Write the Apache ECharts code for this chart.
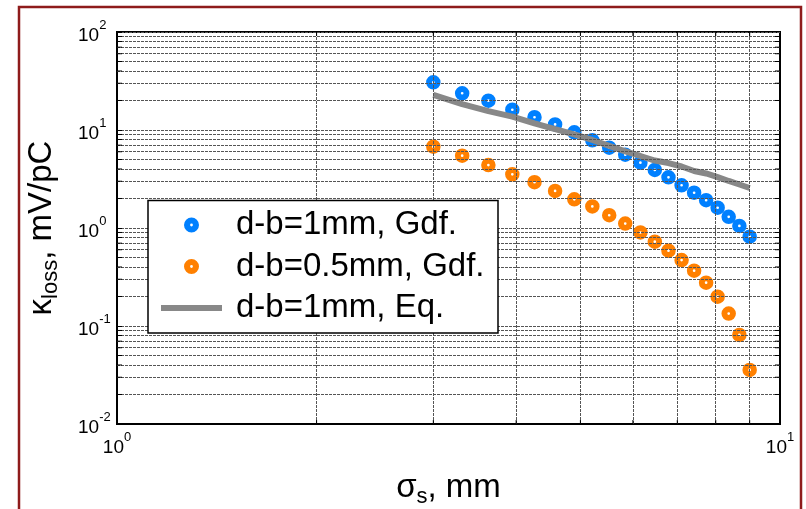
<!DOCTYPE html>
<html><head><meta charset="utf-8">
<script src="https://cdn.jsdelivr.net/npm/echarts@6/dist/echarts.min.js"></script>
<style>html,body{margin:0;padding:0;background:#fff;}#c{width:806px;height:509px;}</style>
</head><body><div id="c"></div>
<script>
// sigma_s values (mm), shared by all series
const sigma = [3.000, 3.316, 3.632, 3.947, 4.263, 4.579, 4.895, 5.211, 5.526, 5.842,
               6.158, 6.474, 6.789, 7.105, 7.421, 7.737, 8.053, 8.368, 8.684, 9.000];
// kappa_loss (mV/pC)
const kappaGdf1mm = [30.7, 23.7, 19.9, 16.1, 13.5, 11.4, 9.47, 7.85, 6.6, 5.6,
                     4.64, 3.91, 3.29, 2.73, 2.29, 1.92, 1.61, 1.30, 1.05, 0.815];
const kappaGdf05mm = [6.75, 5.47, 4.39, 3.53, 2.93, 2.39, 1.96, 1.66, 1.35, 1.11,
                      0.90, 0.725, 0.587, 0.471, 0.367, 0.277, 0.199, 0.134, 0.081, 0.0356];
const kappaEq1mm = [22.8, 18.4, 15.6, 13.7, 11.7, 10.2, 9.04, 7.91, 6.90, 6.06,
                    5.43, 4.88, 4.60, 4.24, 3.82, 3.60, 3.31, 3.02, 2.78, 2.56];
const seriesNames = ['d-b=1mm, Gdf.', 'd-b=0.5mm, Gdf.', 'd-b=1mm, Eq.'];
const xTickExponents = [0, 1];
const yTickExponents = [-2, -1, 0, 1, 2];
const xMinorGrid = [2, 3, 4, 5, 6, 7, 8, 9];
const yMinorGrid = [0.02, 0.03, 0.04, 0.05, 0.06, 0.07, 0.08, 0.09,
                    0.2, 0.3, 0.4, 0.5, 0.6, 0.7, 0.8, 0.9,
                    2, 3, 4, 5, 6, 7, 8, 9,
                    20, 30, 40, 50, 60, 70, 80, 90];

const FONT = "'Liberation Sans', Arial, Helvetica, sans-serif";
const BLUE = '#0080FF', ORANGE = '#FF8000', GRAY = '#888888';
const gridLineStyle = { color: '#555', width: 1, type: [3, 1] };
const RING = 'path://M7,0A7,7,0,1,1,7,14A7,7,0,1,1,7,0ZM7,5.7A1.3,1.3,0,1,0,7,8.3A1.3,1.3,0,1,0,7,5.7Z';
const BAR = 'path://M0,0H61V6H0Z';

function pairs(xs, ys) { return xs.map((x, i) => [x, ys[i]]); }

function expLabel(list) {
  return function (v) {
    const e = Math.round(Math.log10(v));
    if (list.indexOf(e) < 0) return '';
    return '{b|10}{s|' + e + '}';
  };
}
const labelRich = {
  b: { fontSize: 19, fontFamily: FONT, color: '#000', verticalAlign: 'bottom', lineHeight: 26 },
  s: { fontSize: 13, fontFamily: FONT, color: '#000', verticalAlign: 'top', lineHeight: 26 }
};

// minor tick marks drawn through the axes' scales
const tickData = [];
yMinorGrid.forEach(v => { tickData.push([1, v]); tickData.push([10, v]); });
xMinorGrid.forEach(v => { tickData.push([v, 0.01]); tickData.push([v, 100]); });

const chart = echarts.init(document.getElementById('c'), null, { renderer: 'canvas' });
chart.setOption({
  animation: false,
  backgroundColor: '#fff',
  textStyle: { fontFamily: FONT },
  grid: { left: 117, right: 26, top: 32, bottom: 85, show: true, borderColor: '#000', borderWidth: 2,
          backgroundColor: 'transparent', containLabel: false, outerBoundsMode: 'none' },
  xAxis: {
    type: 'log', logBase: 10, min: 1, max: 10,
    name: '{m|σ}{sub|s}{m|, mm}', nameLocation: 'middle', nameGap: 47, nameMoveOverlap: false,
    nameTextStyle: { rich: {
      m: { fontSize: 33, fontFamily: FONT, color: '#000', verticalAlign: 'top', lineHeight: 37 },
      sub: { fontSize: 22, fontFamily: FONT, color: '#000', verticalAlign: 'bottom', lineHeight: 37 } } },
    axisLine: { show: true, lineStyle: { color: '#000', width: 2 } },
    axisTick: { show: true, inside: true, length: 5, lineStyle: { color: '#000', width: 1 } },
    axisLabel: { margin: 7, formatter: expLabel(xTickExponents), rich: labelRich, showMinLabel: true, showMaxLabel: true },
    splitLine: { show: false },
    minorTick: { show: false }, minorSplitLine: { show: false }
  },
  yAxis: {
    type: 'log', logBase: 10, min: 0.01, max: 100,
    name: '{k|κ}{sub|loss}{k|, mV/pC}', nameLocation: 'middle', nameGap: 55, nameRotate: 90, nameMoveOverlap: false,
    nameTextStyle: { rich: {
      k: { fontSize: 33, fontFamily: FONT, color: '#000', verticalAlign: 'top', lineHeight: 37 },
      sub: { fontSize: 22, fontFamily: FONT, color: '#000', verticalAlign: 'bottom', lineHeight: 37 } } },
    axisLine: { show: true, lineStyle: { color: '#000', width: 2 } },
    axisTick: { show: true, inside: true, length: 5, lineStyle: { color: '#000', width: 1 } },
    axisLabel: { margin: 39, align: 'left', formatter: expLabel(yTickExponents), rich: labelRich, showMinLabel: true, showMaxLabel: true },
    splitLine: { show: true, lineStyle: gridLineStyle },
    minorTick: { show: false }, minorSplitLine: { show: false }
  },
  legend: {
    z: 20, orient: 'vertical', left: 161, top: 208.5, padding: 0, itemGap: 8.5,
    itemWidth: 61, itemHeight: 15, symbolKeepAspect: true,
    textStyle: { fontSize: 33, fontFamily: FONT, color: '#000', padding: [0, 0, 0, 9] },
    data: [
      { name: seriesNames[0], icon: RING, itemStyle: { color: BLUE } },
      { name: seriesNames[1], icon: RING, itemStyle: { color: ORANGE } },
      { name: seriesNames[2], icon: BAR, itemStyle: { color: GRAY } }
    ]
  },
  graphic: [
    { type: 'rect', z: 10, shape: { x: 148, y: 200.5, width: 350, height: 132.5 },
      style: { fill: '#fff', stroke: '#000', lineWidth: 1.5 } },
    { type: 'rect', z: 10, shape: { x: 19, y: 7, width: 782, height: 520 },
      style: { fill: 'none', stroke: '#8E1B1B', lineWidth: 2.5 } }
  ],
  series: [
    {
      name: 'grid', type: 'line', data: [], silent: true, z: 1,
      markLine: { silent: true, symbol: 'none', label: { show: false }, lineStyle: gridLineStyle, animation: false,
        emphasis: { disabled: true },
        data: xMinorGrid.map(v => ({ xAxis: v })).concat(yMinorGrid.map(v => ({ yAxis: v }))) }
    },
    {
      name: 'ticks', type: 'custom', silent: true, z: 6, clip: false, data: tickData,
      renderItem: function (params, api) {
        const x = api.value(0), y = api.value(1);
        const p = api.coord([x, y]);
        let dx = 0, dy = 0;
        if (x === 1) dx = 5; else if (x === 10) dx = -5; else if (y === 0.01) dy = -4; else dy = 4;
        return { type: 'line', shape: { x1: p[0], y1: p[1], x2: p[0] + dx, y2: p[1] + dy },
                 style: { stroke: '#000', lineWidth: 1 } };
      }
    },
    {
      name: seriesNames[0], type: 'scatter', z: 3, data: pairs(sigma, kappaGdf1mm),
      symbol: RING, symbolSize: 14.5, itemStyle: { color: BLUE, opacity: 1 }
    },
    {
      name: seriesNames[1], type: 'scatter', z: 3, data: pairs(sigma, kappaGdf05mm),
      symbol: RING, symbolSize: 14.5, itemStyle: { color: ORANGE, opacity: 1 }
    },
    {
      name: seriesNames[2], type: 'line', z: 4, data: pairs(sigma, kappaEq1mm),
      symbol: 'none', showSymbol: false,
      lineStyle: { color: GRAY, width: 6, opacity: 1 }, itemStyle: { color: GRAY }
    }
  ]
});
</script>
</body></html>
